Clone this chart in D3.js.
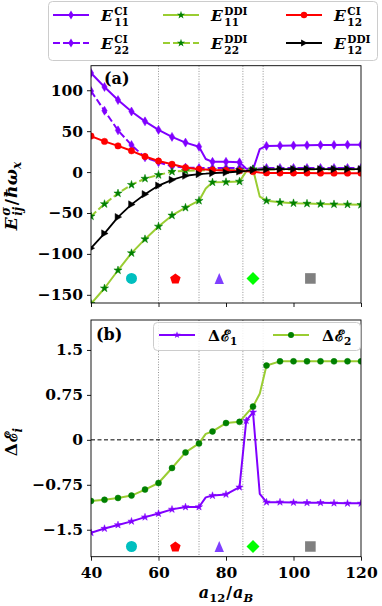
<!DOCTYPE html>
<html>
<head>
<meta charset="utf-8">
<script src="https://cdn.jsdelivr.net/npm/d3@7"></script>
<style>
  body { margin: 0; background: #fff; }
  text { font-family: "DejaVu Serif", serif; font-weight: bold; fill: #000; }
</style>
</head>
<body>
<svg id="fig" width="382" height="606"></svg>
<script>
// ---- data ----
const aGrid = [40, 44, 48, 52, 56, 60, 64, 68, 72, 74, 76, 80, 84, 86, 88, 90, 92, 96, 100, 104, 108, 112, 116, 120];

const E11CI  = [121, 104, 88, 74, 62, 51.5, 43, 36, 31, 16, 12.5, 12.5, 12, 4, 3, 28, 32, 32.3, 32.6, 32.8, 33, 33.2, 33.4, 33.5];
const E22CI  = [99, 75, 51, 33, 18, 12, 7, 5.5, 5, 5, 5, 5, 5, 4.5, 3.5, 4.5, 5, 5, 5, 5, 5, 5, 5, 5];
const E11DDI = [-161, -142, -120, -99, -82, -66.5, -53, -43.5, -35, -20, -12.5, -12.2, -11.5, 0.8, 3.5, -30, -35, -37, -38, -38.5, -39, -39.3, -39.6, -40];
const E22DDI = [-54, -39, -26, -15.5, -8, -3.5, 0.5, 1.5, 2, 2.3, 2.5, 2.5, 2.5, 2.8, 3, 3, 3, 3, 3, 3, 3, 3, 3, 3];
const E12CI  = [44, 37.5, 32, 26, 19, 13.5, 9.5, 5.5, 3.5, 3, 2.5, 2, 1.5, 1, 0.5, -0.5, -1, -1.2, -1.2, -1.2, -1.3, -1.3, -1.3, -1.3];
const E12DDI = [-93, -75, -55, -39.5, -27, -16.5, -9.5, -4.5, -2.5, -2, -1.2, -0.5, 0.7, 1.5, 2.5, 3, 3.3, 3.5, 3.5, 3.5, 3.5, 3.5, 3.5, 3.5];

const dE1 = [-1.55, -1.48, -1.42, -1.36, -1.29, -1.23, -1.16, -1.12, -1.12, -0.96, -0.93, -0.91, -0.79, 0.32, 0.46, -0.9, -1.04, -1.04, -1.045, -1.05, -1.05, -1.055, -1.06, -1.06];
const dE2 = [-1.02, -1.0, -0.97, -0.93, -0.83, -0.72, -0.47, -0.21, -0.06, 0.1, 0.14, 0.28, 0.3, 0.43, 0.555, 0.77, 1.24, 1.31, 1.31, 1.31, 1.31, 1.31, 1.31, 1.31];

const boundaries = [60, 72, 85, 91];
const regionX = [52, 65, 78, 88, 105];
const regionShape = ["circle", "pentagon", "triUp", "diamond", "square"];
const regionColor = ["#00bfbf", "#ff0000", "#7f3fff", "#00ff00", "#808080"];

const xTicks = [40, 60, 80, 100, 120];
const yTicksA = [100, 50, 0, -50, -100, -150];
const yLabelsA = ["100", "50", "0", "\u221250", "\u2212100", "\u2212150"];
const yTicksB = [1.5, 0.75, 0, -0.75, -1.5];
const yLabelsB = ["1.5", "0.75", "0", "\u22120.75", "\u22121.5"];

// ---- setup ----
const PURPLE = "#8000ff", LIME = "#9acd32", GREEN = "#008000";
const svg = d3.select("#fig");

const x = d3.scaleLinear().domain([40, 120]).range([91, 361]);
const yA = d3.scaleLinear().domain([-160, 130]).range([303, 65.7]);
const yB = d3.scaleLinear().domain([-1.95, 2.0]).range([556.7, 320]);

const shapes = {
    thinDiamond: s => `M0,${-s}L${s * 0.6},0L0,${s}L${-s * 0.6},0Z`,
    triRight: s => `M${s},0L${-s * 0.8},${-s}L${-s * 0.8},${s}Z`,
    circle: s => d3.symbol(d3.symbolCircle, Math.PI * s * s)(),
    star: s => d3.symbol(d3.symbolStar, s * s / 0.8908130915)(),
    square: s => `M${-s},${-s}h${2 * s}v${2 * s}h${-2 * s}Z`,
    diamond: s => `M0,${-s}L${s},0L0,${s}L${-s},0Z`,
    triUp: s => `M0,${-s}L${s * 0.85},${s}L${-s * 0.85},${s}Z`,
    pentagon: s => "M" + d3.range(5).map(k => {
        let t = -Math.PI / 2 + k * 2 * Math.PI / 5;
        return [s * Math.cos(t), s * Math.sin(t) + s * 0.1];
    }).join("L") + "Z"
};

// math-ish text built from pieces; stack:true puts a subscript under the previous superscript
function mathText(parent, parts) {
    let g = parent.append("g");
    let cx = 0, prevStart = 0, prevEnd = 0;
    parts.forEach(p => {
        let start = p.stack ? prevStart : cx;
        let t = g.append("text")
            .attr("x", start)
            .attr("y", p.dy || 0)
            .attr("font-size", p.size || 15)
            .attr("font-style", p.it ? "italic" : "normal")
            .text(p.t);
        let w = t.node().getComputedTextLength();
        if (p.stack) {
            cx = Math.max(prevEnd, start + w) + (p.gap || 0);
        } else {
            prevStart = start;
            prevEnd = start + w;
            cx = start + w + (p.gap || 0);
        }
    });
    return { g: g, width: cx };
}

function drawPanel(y, clipId, yTicks, yLabels, showXLabels) {
    let [y0, y1] = y.range();
    let x0 = x.range()[0], x1 = x.range()[1];

    svg.append("clipPath").attr("id", clipId)
        .append("rect").attr("x", x0).attr("y", y1).attr("width", x1 - x0).attr("height", y0 - y1);

    // dotted phase boundaries
    svg.append("g").selectAll("line")
        .data(boundaries).enter().append("line")
        .attr("x1", d => x(d)).attr("x2", d => x(d))
        .attr("y1", y1).attr("y2", y0)
        .style("stroke", "#777").style("stroke-width", 0.8)
        .style("stroke-dasharray", "1,1.6");

    let yAxis = svg.append("g")
        .attr("transform", `translate(${x0},0)`)
        .call(d3.axisLeft(y).tickValues(yTicks).tickFormat((d, i) => yLabels[i]).tickSize(4).tickPadding(4));
    let xAxis = svg.append("g")
        .attr("transform", `translate(0,${y0})`)
        .call(d3.axisBottom(x).tickValues(xTicks).tickSize(4).tickPadding(4));
    [yAxis, xAxis].forEach(ax => {
        ax.select(".domain").remove();
        ax.selectAll("line").style("stroke", "#000").style("stroke-width", 0.9);
        ax.selectAll("text").attr("font-size", 15.5).style("font-family", "DejaVu Serif").style("font-weight", "bold");
    });
    if (!showXLabels) xAxis.selectAll("text").remove();
    else xAxis.selectAll("text").attr("dy", "0.88em");

    return svg.append("g").attr("clip-path", `url(#${clipId})`);
}

function drawSeries(g, y, values, cfg) {
    let pts = aGrid.map((a, i) => ({ a: a, v: values[i] }));
    g.append("path")
        .datum(pts)
        .attr("d", d3.line().x(d => x(d.a)).y(d => y(d.v)))
        .style("fill", "none")
        .style("stroke", cfg.stroke)
        .style("stroke-width", cfg.width || 2)
        .style("stroke-dasharray", cfg.dash || null)
        .style("stroke-linejoin", "round");
    g.append("g").selectAll("path")
        .data(pts.filter(d => d.a % 4 === 0 || (cfg.extra || []).includes(d.a)))
        .enter().append("path")
        .attr("transform", d => `translate(${x(d.a)},${y(d.v)})`)
        .attr("d", shapes[cfg.marker](cfg.size))
        .style("fill", cfg.fill || cfg.stroke)
        .style("stroke", cfg.fill || cfg.stroke)
        .style("stroke-width", 0.5);
}

function drawRegions(g, y, yv) {
    g.append("g").selectAll("path")
        .data(regionX).enter().append("path")
        .attr("transform", d => `translate(${x(d)},${y(yv)})`)
        .attr("d", (d, i) => shapes[regionShape[i]](regionShape[i] === "diamond" ? 6.5 : regionShape[i] === "square" ? 5.3 : 5.5))
        .style("fill", (d, i) => regionColor[i]);
}

// ---- panel (a) ----
const seriesA = [
    { values: E11CI, label: ["E", "CI", "11"], stroke: PURPLE, marker: "thinDiamond", size: 4.5 },
    { values: E22CI, label: ["E", "CI", "22"], stroke: PURPLE, marker: "thinDiamond", size: 4.5, dash: "7,3" },
    { values: E11DDI, label: ["E", "DDI", "11"], stroke: LIME, fill: GREEN, marker: "star", size: 4.3 },
    { values: E22DDI, label: ["E", "DDI", "22"], stroke: LIME, fill: GREEN, marker: "star", size: 4.3, dash: "7,3" },
    { values: E12CI, label: ["E", "CI", "12"], stroke: "#ff0000", marker: "circle", size: 3.2 },
    { values: E12DDI, label: ["E", "DDI", "12"], stroke: "#000", marker: "triRight", size: 3.6, width: 1.8 }
];

let plotA = drawPanel(yA, "clipA", yTicksA, yLabelsA, false);
seriesA.forEach(s => drawSeries(plotA, yA, s.values, s));
drawRegions(plotA, yA, -130);
svg.append("rect").attr("x", 91).attr("y", 65.7).attr("width", 270).attr("height", 237.3)
    .style("fill", "none").style("stroke", "#000").style("stroke-width", 0.9);
svg.append("text").attr("x", 104).attr("y", 84).attr("font-size", 16).text("(a)");

// ---- panel (b) ----
const seriesB = [
    { values: dE1, label: "1", stroke: PURPLE, marker: "star", size: 3.8, extra: [86] },
    { values: dE2, label: "2", stroke: LIME, fill: GREEN, marker: "circle", size: 3 }
];

let plotB = drawPanel(yB, "clipB", yTicksB, yLabelsB, true);
plotB.append("line")
    .attr("x1", 91).attr("x2", 361).attr("y1", yB(0)).attr("y2", yB(0))
    .style("stroke", "#000").style("stroke-width", 1).style("stroke-dasharray", "4,2.5");
seriesB.forEach(s => drawSeries(plotB, yB, s.values, s));
drawRegions(plotB, yB, -1.78);
svg.append("rect").attr("x", 91).attr("y", 320).attr("width", 270).attr("height", 236.7)
    .style("fill", "none").style("stroke", "#000").style("stroke-width", 0.9);
svg.append("text").attr("x", 96).attr("y", 340).attr("font-size", 16).text("(b)");

// ---- legend (a) ----
svg.append("rect").attr("x", 48.5).attr("y", 1.5).attr("width", 329).attr("height", 59).attr("rx", 4)
    .style("fill", "#fff").style("fill-opacity", 0.85).style("stroke", "#ccc");
const legCols = [53, 163, 286], legRows = [15, 43];
seriesA.forEach((s, i) => {
    let cx = legCols[Math.floor(i / 2)], cy = legRows[i % 2];
    svg.append("line").attr("x1", cx).attr("x2", cx + 36).attr("y1", cy).attr("y2", cy)
        .style("stroke", s.stroke).style("stroke-width", s.width || 2).style("stroke-dasharray", s.dash || null);
    svg.append("path").attr("transform", `translate(${cx + 18},${cy})`).attr("d", shapes[s.marker](s.size))
        .style("fill", s.fill || s.stroke);
    let m = mathText(svg, [
        { t: s.label[0], it: true, size: 15.5, gap: 1.5 },
        { t: s.label[1], size: 10.5, dy: -6 },
        { t: s.label[2], size: 10.5, dy: 5, stack: true }
    ]);
    m.g.attr("transform", `translate(${cx + 48},${cy + 5.5})`);
});

// ---- legend (b) ----
svg.append("rect").attr("x", 153.5).attr("y", 322.5).attr("width", 207).attr("height", 28).attr("rx", 4)
    .style("fill", "#fff").style("fill-opacity", 0.85).style("stroke", "#ccc");
[159, 273].forEach((lx, i) => {
    let s = seriesB[i];
    svg.append("line").attr("x1", lx).attr("x2", lx + 36).attr("y1", 335).attr("y2", 335)
        .style("stroke", s.stroke).style("stroke-width", 2);
    svg.append("path").attr("transform", `translate(${lx + 18},335)`).attr("d", shapes[s.marker](s.size))
        .style("fill", s.fill || s.stroke);
    let m = mathText(svg, [
        { t: "\u0394", size: 15.5, gap: 0.5 },
        { t: "\u2130", size: 15.5, gap: 0.5 },
        { t: s.label, size: 10.5, dy: 4 }
    ]);
    m.g.attr("transform", `translate(${lx + 49},340.5)`);
});

// ---- axis labels ----
let labA = mathText(svg, [
    { t: "E", it: true, size: 17, gap: 1.5 },
    { t: "\u03c3", it: true, size: 12, dy: -7 },
    { t: "ij", it: true, size: 12, dy: 5, stack: true, gap: 1.5 },
    { t: "/", size: 17, gap: 1 },
    { t: "\u0127", it: true, size: 17, gap: 0.5 },
    { t: "\u03c9", it: true, size: 17 },
    { t: "x", it: true, size: 12, dy: 4.5 }
]);
labA.g.attr("transform", `translate(16.5,196) rotate(-90) translate(${-labA.width / 2},0)`);

let labB = mathText(svg, [
    { t: "\u0394", size: 17, gap: 0.5 },
    { t: "\u2130", size: 17 },
    { t: "i", it: true, size: 12, dy: 4.5 }
]);
labB.g.attr("transform", `translate(17,442) rotate(-90) translate(${-labB.width / 2},0)`);

let labX = mathText(svg, [
    { t: "a", it: true, size: 16 },
    { t: "12", size: 11.5, dy: 4, gap: 1 },
    { t: "/", size: 16, gap: 1 },
    { t: "a", it: true, size: 16 },
    { t: "B", it: true, size: 11.5, dy: 4 }
]);
labX.g.attr("transform", `translate(${226 - labX.width / 2},598)`);
</script>
</body>
</html>
